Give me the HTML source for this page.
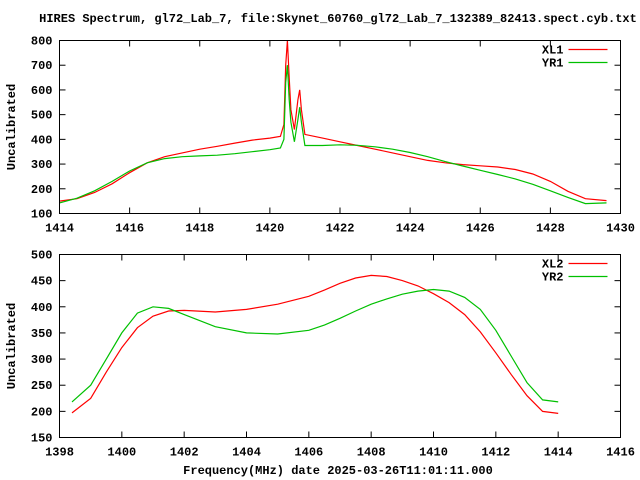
<!DOCTYPE html>
<html><head><meta charset="utf-8"><style>
body{margin:0;background:#fff}
svg{display:block;font-family:"Liberation Mono",monospace;font-size:12px;font-weight:bold}
</style></head><body>
<svg id="c" width="640" height="480" xmlns="http://www.w3.org/2000/svg">
<rect width="640" height="480" fill="#fff"/>
<text x="338" y="22" text-anchor="middle">HIRES Spectrum, gl72_Lab_7, file:Skynet_60760_gl72_Lab_7_132389_82413.spect.cyb.txt</text>
<text x="338" y="474" text-anchor="middle">Frequency(MHz) date 2025-03-26T11:01:11.000</text>
</svg>
<script>
const topFreq=[1414,1414.5,1415,1415.5,1416,1416.5,1417,1417.5,1418,1418.5,1419,1419.5,1420,1420.3,1420.4,1420.45,1420.5,1420.55,1420.6,1420.7,1420.8,1420.85,1420.9,1421,1421.5,1422,1422.5,1423,1423.5,1424,1424.5,1425,1425.5,1426,1426.5,1427,1427.5,1428,1428.5,1429,1429.6];
const xl1=[150,160,185,220,265,305,330,345,360,372,385,397,405,412,460,700,800,650,520,440,560,600,520,420,405,390,375,360,345,330,315,305,298,293,288,278,260,230,190,160,152];
const yr1=[143,162,192,230,272,305,322,330,333,336,342,350,358,365,400,630,700,560,470,390,480,530,470,375,375,378,376,370,360,347,330,310,292,275,258,240,218,192,165,140,143];
const botFreq=[1398.4,1399,1399.5,1400,1400.5,1401,1401.5,1402,1403,1404,1405,1406,1406.5,1407,1407.5,1408,1408.5,1409,1409.5,1410,1410.5,1411,1411.5,1412,1412.5,1413,1413.5,1414];
const xl2=[197,225,275,322,360,382,392,393,390,395,405,420,432,445,455,460,458,450,440,425,408,385,352,312,270,230,200,196];
const yr2=[218,250,300,350,388,400,397,385,362,350,348,355,365,378,392,405,415,424,430,433,430,418,395,355,305,255,222,218];
const topXTicks=[1414,1416,1418,1420,1422,1424,1426,1428,1430];
const topYTicks=[100,200,300,400,500,600,700,800];
const botXTicks=[1398,1400,1402,1404,1406,1408,1410,1412,1414,1416];
const botYTicks=[150,200,250,300,350,400,450,500];
const svg=document.getElementById('c');
const NS='http://www.w3.org/2000/svg';
function mk(t,a,p){const e=document.createElementNS(NS,t);for(const k in a)e.setAttribute(k,a[k]);(p||svg).appendChild(e);return e;}
function panel(name,x0,x1,y0,y1,L,R,T,B,xt,yt,freq,series,labels){
  const g=mk('g',{});
  
  
  const sx=v=>L+(v-x0)/(x1-x0)*(R-L);
  const sy=v=>B-(v-y0)/(y1-y0)*(B-T);
  xt.forEach(v=>{const x=sx(v);
    mk('line',{x1:x,x2:x,y1:B,y2:B-6,stroke:'#000'},g);
    mk('line',{x1:x,x2:x,y1:T,y2:T+6,stroke:'#000'},g);
    const t=mk('text',{x:x,y:B+18,'text-anchor':'middle'},g);t.textContent=v;
    
    });
  yt.forEach(v=>{const y=sy(v);
    mk('line',{x1:L,x2:L+6,y1:y,y2:y,stroke:'#000'},g);
    mk('line',{x1:R,x2:R-6,y1:y,y2:y,stroke:'#000'},g);
    const t=mk('text',{x:L-7,y:y+4,'text-anchor':'end'},g);t.textContent=v;
    
    });
  const yl=mk('text',{x:15,y:(T+B)/2,'text-anchor':'middle',transform:`rotate(-90 15 ${(T+B)/2})`},g);
  yl.textContent='Uncalibrated';
  
  
  const cols=['#ff0000','#00c000'];
  series.forEach((s,i)=>{
    const p=mk('polyline',{points:freq.map((f,j)=>sx(f).toFixed(1)+','+sy(s[j]).toFixed(1)).join(' '),fill:'none',stroke:cols[i],'stroke-width':1.2},g);
    
    
    const ly=T+9+i*13;
    const lt=mk('text',{x:R-57,y:ly+4,'text-anchor':'end'},g);lt.textContent=labels[i];
    
    
    mk('line',{x1:R-52,x2:R-13,y1:ly,y2:ly,stroke:cols[i],'stroke-width':1.2},g);
  });
  const fr=mk('rect',{x:L,y:T,width:R-L,height:B-T,fill:'none',stroke:'#000'},g);
  
  
}
panel('top-panel',1414,1430,100,800,59.5,620.5,40.5,213.5,topXTicks,topYTicks,topFreq,[xl1,yr1],['XL1','YR1']);
panel('bottom-panel',1398,1416,150,500,59.5,620.5,254.5,437.5,botXTicks,botYTicks,botFreq,[xl2,yr2],['XL2','YR2']);
</script>
</body></html>
